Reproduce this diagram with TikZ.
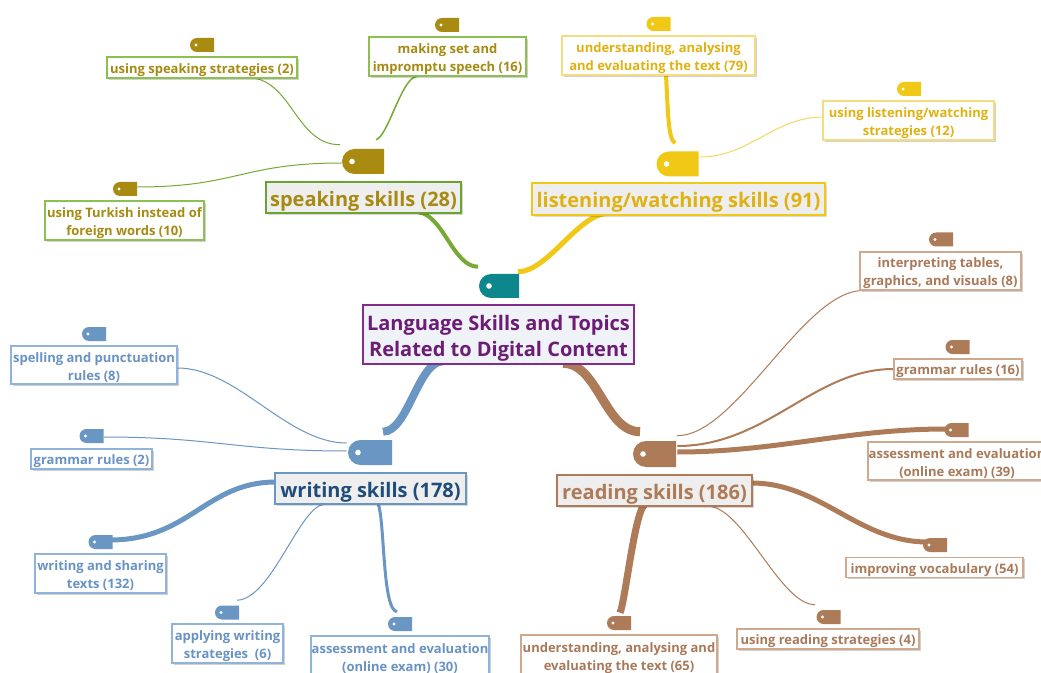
\documentclass[tikz,border=0pt]{standalone}
\usepackage{fontspec}
\setmainfont{Open Sans}
\usetikzlibrary{shapes.misc,shadows}

% branch colours
\definecolor{spTag}{HTML}{A88B10}
\definecolor{spText}{HTML}{A68A12}
\definecolor{spLine}{HTML}{76AA35}
\definecolor{spBorder}{HTML}{8CC152}
\definecolor{spMain}{HTML}{6BA32E}
\definecolor{lsTag}{HTML}{F0C815}
\definecolor{lsText}{HTML}{DFB212}
\definecolor{lsBorder}{HTML}{F5DC7E}
\definecolor{lsLight}{HTML}{F4D866}
\definecolor{wrTag}{HTML}{6A96C4}
\definecolor{wrText}{HTML}{6893C3}
\definecolor{wrBorder}{HTML}{90B3DB}
\definecolor{wrDark}{HTML}{1F4C7B}
\definecolor{rdTag}{HTML}{AD7B57}
\definecolor{rdText}{HTML}{A9795A}
\definecolor{rdBorder}{HTML}{CFA98D}
\definecolor{ctTag}{HTML}{0E878C}
\definecolor{ctText}{HTML}{6C1C74}
\definecolor{ctBorder}{HTML}{822D8C}
\definecolor{ctFill}{HTML}{EFF3F8}
\definecolor{hubFill}{HTML}{EEEEEE}

\def\pxu{0.75pt}
% invisible struts that push each first text line down a little
\newcommand{\leafstrut}{\rule{0pt}{11pt}}
\newcommand{\hubstrut}{\rule{0pt}{16.6pt}}

\pgfdeclarelayer{back}
\pgfdeclarelayer{lines}
\pgfsetlayers{back,lines,main}

\tikzset{
  boxsize/.style 2 args={minimum width=#1*\pxu, minimum height=#2*\pxu},
  leaf/.style={rectangle, inner sep=0pt, line width=0.8pt, fill=white, align=center,
    font=\fontsize{9.75}{13.5}\selectfont\bfseries,
    drop shadow={shadow xshift=1.3pt, shadow yshift=-1.3pt, fill=black, opacity=0.18}},
  hub/.style={rectangle, inner sep=0pt, line width=1.9pt, fill=hubFill, align=center,
    font=\fontsize{15}{19}\selectfont\bfseries,
    drop shadow={shadow xshift=1.3pt, shadow yshift=-1.3pt, fill=black, opacity=0.15}},
  tagsmall/.style={rounded rectangle, rounded rectangle right arc=none, inner sep=0pt,
    minimum width=24*\pxu, minimum height=14*\pxu, fill=#1,
    path picture={\fill[white] ([xshift=6*\pxu]path picture bounding box.west) circle (1.6*\pxu);}},
  tagbig/.style={rounded rectangle, rounded rectangle right arc=none, inner sep=0pt,
    minimum width=42*\pxu, minimum height=25*\pxu, fill=#1,
    path picture={\fill[white] ([xshift=10*\pxu]path picture bounding box.west) circle (2.8*\pxu);}},
  sp/.style={leaf, draw=spBorder, text=spText},
  ls/.style={leaf, draw=lsBorder, text=lsText},
  wr/.style={leaf, draw=wrBorder, text=wrText},
  rd/.style={leaf, draw=rdBorder, text=rdText},
}

\begin{document}
\begin{tikzpicture}[x=0.75pt, y=-0.75pt]
\useasboundingbox (0,0) rectangle (1041,673);
\begin{pgfonlayer}{back}
  \fill[white] (0,0) rectangle (1041,673);
\end{pgfonlayer}

% ---------- centre ----------
\node[tagbig=ctTag, boxsize={40}{24}] (ctag) at (499,286) {};
\node[rectangle, inner sep=0pt, line width=1.9pt, draw=ctBorder, fill=ctFill, text=ctText,
      align=center, font=\fontsize{15}{19.5}\selectfont\bfseries, boxsize={271}{59}]
      (cbox) at (498.5,334.5) {\hubstrut Language Skills and Topics\\Related to Digital Content};

% ---------- speaking ----------
\node[tagbig=spTag] (sphub) at (363,161.5) {};
\node[hub, draw=spMain, text=spText, boxsize={195}{31}] (spbox) at (363.5,197.5) {\hubstrut speaking skills (28)};
\node[tagsmall=spTag] (sp1t) at (202,45) {};
\node[sp, boxsize={190}{21}] (sp1) at (202,67.5) {\leafstrut using speaking strategies (2)};
\node[tagsmall=spTag] (sp2t) at (447,25) {};
\node[sp, boxsize={157}{39}] (sp2) at (447.5,56.5) {\leafstrut making set and\\impromptu speech (16)};
\node[tagsmall=spTag] (sp3t) at (125,189) {};
\node[sp, boxsize={159}{39}] (sp3) at (124.5,220.5) {\leafstrut using Turkish instead of\\foreign words (10)};

% ---------- listening / watching ----------
\node[tagbig=lsTag] (lshub) at (677.5,164) {};
\node[hub, draw=lsTag, text=lsText, boxsize={293}{32}] (lsbox) at (678.5,199) {\hubstrut listening/watching skills (91)};
\node[tagsmall=lsTag] (ls1t) at (658.5,24) {};
\node[ls, boxsize={193}{39}] (ls1) at (658.5,55.5) {\leafstrut understanding, analysing\\and evaluating the text (79)};
\node[tagsmall=lsTag] (ls2t) at (909,89) {};
\node[ls, boxsize={171}{39}] (ls2) at (908.5,120.5) {\leafstrut using listening/watching\\strategies (12)};

% ---------- writing ----------
\node[tagbig=wrTag, boxsize={44}{25}] (wrhub) at (370,452.5) {};
\node[hub, draw=wrTag, text=wrDark, boxsize={191}{31}] (wrbox) at (370.5,488.5) {\hubstrut writing skills (178)};
\node[tagsmall=wrTag] (wr1t) at (94,334) {};
\node[wr, boxsize={166}{38}] (wr1) at (94,365) {\leafstrut spelling and punctuation\\rules (8)};
\node[tagsmall=wrTag] (wr2t) at (91.5,436) {};
\node[wr, boxsize={121}{20}] (wr2) at (91.5,459) {\leafstrut grammar rules (2)};
\node[tagsmall=wrTag] (wr3t) at (100.5,542) {};
\node[wr, boxsize={131}{39}] (wr3) at (100.5,573.5) {\leafstrut writing and sharing\\texts (132)};
\node[tagsmall=wrTag] (wr4t) at (227,612.5) {};
\node[wr, boxsize={111}{39}] (wr4) at (227.5,643.5) {\leafstrut applying writing\\strategies\ \ (6)};
\node[tagsmall=wrTag] (wr5t) at (400,624) {};
\node[wr, boxsize={178}{40}] (wr5) at (400,656) {\leafstrut assessment and evaluation\\(online exam) (30)};

% ---------- reading ----------
\node[tagbig=rdTag, boxsize={43}{26}] (rdhub) at (654.5,454) {};
\node[hub, draw=rdTag, text=rdTag, boxsize={195}{31}] (rdbox) at (654.5,490.5) {\hubstrut reading skills (186)};
\node[tagsmall=rdTag] (rd1t) at (941,239.5) {};
\node[rd, boxsize={161}{38}] (rd1) at (940.5,271) {\leafstrut interpreting tables,\\graphics, and visuals (8)};
\node[tagsmall=rdTag] (rd2t) at (957.5,347) {};
\node[rd, boxsize={128}{20}] (rd2) at (958,369) {\leafstrut grammar rules (16)};
\node[tagsmall=rdTag] (rd3t) at (956.5,430) {};
\node[rd, boxsize={178}{38}] (rd3) at (957,461) {\leafstrut assessment and evaluation\\(online exam) (39)};
\node[tagsmall=rdTag] (rd4t) at (935,545) {};
\node[rd, boxsize={177}{20}] (rd4) at (934.5,567.5) {\leafstrut improving vocabulary (54)};
\node[tagsmall=rdTag] (rd5t) at (828.5,617) {};
\node[rd, boxsize={182}{20}] (rd5) at (828,639) {\leafstrut using reading strategies (4)};
\node[tagsmall=rdTag] (rd6t) at (619,623) {};
\node[rd, boxsize={196}{41}] (rd6) at (619,655.5) {\leafstrut understanding, analysing and\\evaluating the text (65)};

% ---------- connectors ----------
\begin{pgfonlayer}{lines}
% main branches
\draw[spLine, line width=4*\pxu] ([shift={(55,-2)}]spbox.south) .. controls +(25,3) and +(-25,0) .. ([shift={(-21,-7)}]ctag.north);
\draw[lsTag, line width=5*\pxu] ([shift={(-70,-3)}]lsbox.south) .. controls +(-30,0) and +(30,0) .. ([shift={(19,-2)}]ctag.north);
\draw[wrTag, line width=8*\pxu] ([shift={(-55.5,-4)}]cbox.south) .. controls +(-25,0) and +(25,0) .. ([shift={(13,-8)}]wrhub.north);
\draw[rdTag, line width=9*\pxu] ([shift={(64.5,-2)}]cbox.south) .. controls +(35,0) and +(-35,0) .. ([shift={(-14.5,-9)}]rdhub.north);

% speaking
\draw[spLine, line width=1*\pxu] ([shift={(-23,-4)}]sphub.north) .. controls +(-45,0) and +(45,0) .. ([shift={(45,-1)}]sp1.south);
\draw[spLine, line width=1.5*\pxu] ([shift={(13,-9)}]sphub.north) .. controls +(12,-3) and +(-15,0) .. ([shift={(-30.5,0)}]sp2.south);
\draw[spLine, line width=1*\pxu] ([shift={(0,1.5)}]sphub.west) .. controls +(-100,0) and +(100,0) .. ([shift={(0,-2)}]sp3t.east);

% listening / watching
\draw[lsTag, line width=4*\pxu] ([shift={(7.5,0)}]ls1.south) .. controls +(2,35) and +(-7,-4) .. ([shift={(-2.5,-8)}]lshub.north);
\draw[lsLight, line width=1*\pxu] ([shift={(1,-7)}]lshub.east) .. controls +(50,0) and +(-50,0) .. ([shift={(1,-3.5)}]ls2.west);

% writing
\draw[wrTag, line width=1*\pxu] ([shift={(0,3)}]wr1.east) .. controls +(60,0) and +(-60,0) .. ([shift={(-1,-9.5)}]wrhub.west);
\draw[wrTag, line width=1*\pxu] ([shift={(0,1)}]wr2t.east) .. controls +(110,0) and +(-110,0) .. ([shift={(-1,-1.5)}]wrhub.west);
\draw[wrTag, line width=5*\pxu] ([shift={(2,-6.5)}]wrbox.west) .. controls +(-70,0) and +(80,0) .. ([shift={(-3,-2)}]wr3t.east);
\draw[wrTag, line width=1*\pxu] ([shift={(-45.5,-1)}]wrbox.south) .. controls +(-25,0) and +(35,-1) .. ([shift={(10,-5)}]wr4t.north);
\draw[wrTag, line width=3*\pxu] ([shift={(7.5,-2)}]wrbox.south) .. controls +(7,18) and +(-15,-2) .. ([shift={(-3,-5)}]wr5t.north);

% reading
\draw[rdTag, line width=1*\pxu] ([shift={(22.5,-5)}]rdhub.north) .. controls +(60,0) and +(-60,0) .. ([shift={(-77.5,0)}]rd1.south);
\draw[rdTag, line width=2*\pxu] ([shift={(1,-8)}]rdhub.east) .. controls +(90,0) and +(-80,0) .. (rd2.west);
\draw[rdTag, line width=5*\pxu] ([shift={(1,-2)}]rdhub.east) .. controls +(100,0) and +(-100,0) .. ([shift={(2,-1)}]rd3t.west);
\draw[rdTag, line width=5*\pxu] ([shift={(-2,-7.5)}]rdbox.east) .. controls +(70,0) and +(-70,0) .. ([shift={(5,-3)}]rd4t.west);
\draw[rdTag, line width=1*\pxu] ([shift={(53.5,-1)}]rdbox.south) .. controls +(35,0) and +(-35,0) .. ([shift={(-13.5,-5)}]rd5t.north);
\draw[rdTag, line width=7*\pxu] ([shift={(-9.5,-3)}]rdbox.south) .. controls +(-10,5) and +(5,-10) .. ([shift={(1,-3)}]rd6t.north);
\end{pgfonlayer}
\end{tikzpicture}
\end{document}
